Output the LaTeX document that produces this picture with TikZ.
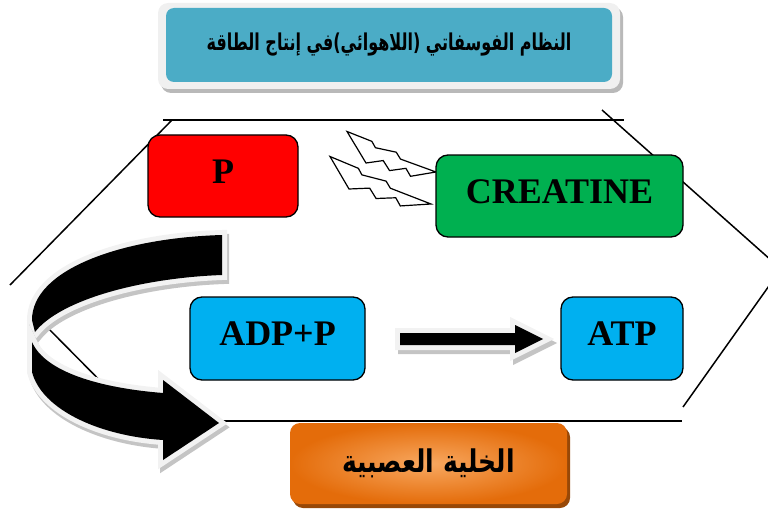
\documentclass[tikz,border=0pt]{standalone}
\usepackage{fontspec}
\usepackage{graphicx}
\setmainfont{Liberation Serif}
\newfontfamily\arabicfont[Script=Arabic]{DejaVu Sans}
\TeXXeTstate=1
\definecolor{titleteal}{HTML}{4BACC6}
\definecolor{framegray}{HTML}{F0F0F0}
\definecolor{pred}{HTML}{FF0000}
\definecolor{cgreen}{HTML}{00B050}
\definecolor{acyan}{HTML}{00B0F0}
\definecolor{cellorange}{HTML}{E46C0A}
\definecolor{celllight}{HTML}{F8A860}
\definecolor{cellshade}{HTML}{984807}
\definecolor{arrowrim}{HTML}{F2F2F2}
\definecolor{arrowshade}{HTML}{C4C4C4}
\begin{document}
\begin{tikzpicture}[x=1pt,y=-1pt,
  hexline/.style={draw=black,line width=1.5pt},
  panel/.style={draw=black,line width=1.3pt,rounded corners=12pt,inner sep=0pt},
  caption/.style={font=\bfseries\fontsize{36}{40}\selectfont,text height=24pt,text depth=10pt},
  rim/.style={draw=arrowrim,line width=10pt,line join=miter},
  rimshadow/.style={draw=arrowshade,fill=arrowshade,line width=10pt,line join=miter},
  boltline/.style={draw=black,fill=white,line width=1.2pt,line join=miter},
  upper band/.style={insert path={(222,235) .. controls (120,238) and (32,270) .. (32,320)
      -- (35,332) .. controls (60,300) and (140,278) .. (222,275) -- cycle}},
  lower band/.style={insert path={(32,342) -- (32,372) .. controls (42,410) and (100,436) .. (163,440)
      -- (163,460) -- (219,423) -- (163,380) -- (163,393)
      .. controls (100,388) and (45,372) .. (32,342) -- cycle}},
  straight arrow/.style={insert path={(400,333) -- (515,333) -- (515,325) -- (543,339)
      -- (515,353) -- (515,345) -- (400,345) -- cycle}},
  % zigzag bolt spanned by its tail corners #1a, #1b and its point #1c
  bolt/.style={insert path={(#1b)
      -- (barycentric cs:#1a=-0.0640,#1b=0.7710,#1c=0.2930)
      -- (barycentric cs:#1a=0.1433,#1b=0.5679,#1c=0.2888)
      -- (barycentric cs:#1a=-0.0746,#1b=0.5053,#1c=0.5693)
      -- (barycentric cs:#1a=0.1413,#1b=0.2880,#1c=0.5707)
      -- (#1c)
      -- (barycentric cs:#1a=0.6944,#1b=-0.2599,#1c=0.5655)
      -- (barycentric cs:#1a=0.4385,#1b=-0.0070,#1c=0.5685)
      -- (barycentric cs:#1a=0.8627,#1b=-0.1567,#1c=0.2940)
      -- (barycentric cs:#1a=0.5505,#1b=0.1605,#1c=0.2890)
      -- (#1a) -- cycle}}
]
\useasboundingbox (0,0) rectangle (768,516);
\clip (0,0) rectangle (768,516);

% hexagonal frame
\draw[hexline] (163,120) -- (624,120);
\draw[hexline] (172,120) -- (10,285);
\draw[hexline] (40,320) -- (140,421);
\draw[hexline] (135,421) -- (682,421);
\draw[hexline] (683,407) -- (781,269);
\draw[hexline] (602,110) -- (781,269);

% title panel
\node[fill=gray!55,rounded corners=10pt,minimum width=462pt,minimum height=86pt] at (392,50) {};
\node (titleframe) [fill=framegray,rounded corners=10pt,minimum width=462pt,minimum height=86pt] at (389,46) {};
\node (title) [fill=titleteal,rounded corners=8pt,minimum width=446pt,minimum height=74pt,
  font=\arabicfont\bfseries\fontsize{16}{20}\selectfont] at (389,45)
  {\scalebox{1}[1.45]{\beginR النظام الفوسفاتي (اللاهوائي)في إنتاج الطاقة\endR}};

% curved block arrow
\begin{scope}[shift={(2,4)}]
  \path[rimshadow,upper band];
\end{scope}
\path[rim,upper band];
\path[fill=black,upper band];
\begin{scope}[shift={(2,4)}]
  \path[rimshadow,lower band];
\end{scope}
\path[rim,lower band];
\path[fill=black,lower band];

% straight block arrow
\begin{scope}[shift={(3,4)}]
  \path[rimshadow,straight arrow];
\end{scope}
\path[rim,straight arrow];
\path[fill=black,straight arrow];

% lightning bolts
\coordinate (ua) at (366,163);
\coordinate (ub) at (347,131.5);
\coordinate (uc) at (436,172);
\coordinate (la) at (349,189);
\coordinate (lb) at (330,156.5);
\coordinate (lc) at (431,204);
\path[boltline,bolt=u];
\path[boltline,bolt=l];

% boxes
\node (p) [panel,fill=pred,minimum width=150pt,minimum height=82pt,caption] at (223,176) {P};
\node (creatine) [panel,fill=cgreen,minimum width=247pt,minimum height=82pt,caption] at (559.5,196) {CREATINE};
\node (adp) [panel,fill=acyan,minimum width=175pt,minimum height=83pt,caption] at (277.5,338.5) {ADP+P};
\node (atp) [panel,fill=acyan,minimum width=122pt,minimum height=83pt,caption] at (622,338.5) {ATP};

% nerve cell panel
\node[fill=cellshade,rounded corners=10pt,minimum width=277pt,minimum height=81pt] at (431.5,467.5) {};
\node (cell) [shading=radial,inner color=celllight,outer color=cellorange,rounded corners=10pt,
  minimum width=277pt,minimum height=81pt,
  font=\arabicfont\bfseries\fontsize{25}{30}\selectfont] at (428.5,463.5)
  {\scalebox{1}[1.25]{\beginR الخلية العصبية\endR}};
\end{tikzpicture}
\end{document}
